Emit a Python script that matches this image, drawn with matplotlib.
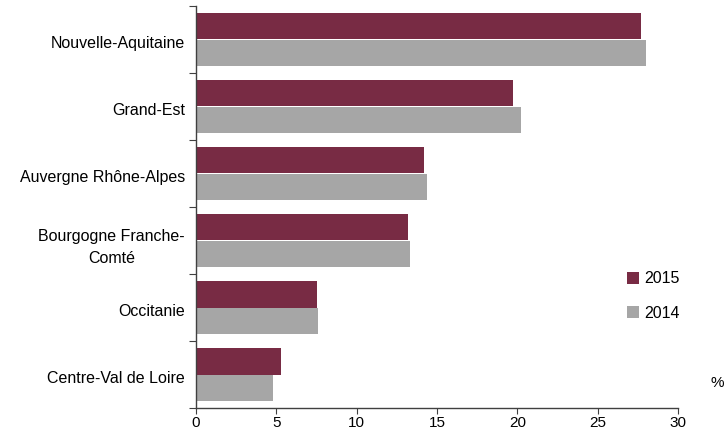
import matplotlib
matplotlib.use("Agg")
import matplotlib.pyplot as plt
import numpy as np

plt.rcParams['font.family'] = ['Liberation Sans', 'DejaVu Sans']

regions = ["Nouvelle-Aquitaine", "Grand-Est", "Auvergne Rhône-Alpes",
           "Bourgogne Franche-\nComté", "Occitanie", "Centre-Val de Loire"]
values_2015 = [27.7, 19.7, 14.2, 13.2, 7.5, 5.3]
values_2014 = [28.0, 20.2, 14.4, 13.3, 7.6, 4.8]
x_ticks = [0, 5, 10, 15, 20, 25, 30]

col_2015 = "#782b44"
col_2014 = "#a6a6a6"
fs = 11.5

fig = plt.figure(figsize=(7.24, 4.33), dpi=100)
ax = fig.add_axes([196 / 724, 1 - 408 / 433, (678 - 196) / 724, (408 - 6) / 433])

y = np.arange(len(regions))
h = 0.4
ax.barh(y - h / 2, values_2015, height=h, color=col_2015, label="2015")
ax.barh(y + h / 2, values_2014, height=h, color=col_2014, label="2014")

ax.set_ylim(len(regions) - 0.5, -0.5)
ax.set_xlim(0, 30)
ax.set_xticks(x_ticks)
ax.set_xticklabels([str(t) for t in x_ticks], fontsize=fs - 0.5)

# category ticks at the boundaries, labels centred
ax.set_yticks(np.arange(-0.5, len(regions), 1))
ax.set_yticklabels([])
ax.set_yticks(y + 0.03, minor=True)
ax.set_yticklabels(regions, minor=True, fontsize=fs, ha="right", multialignment="center",
                   linespacing=1.6)
ax.tick_params(axis="y", which="minor", length=0, pad=8)
ax.tick_params(axis="y", which="major", length=5, color="#404040")
ax.tick_params(axis="x", length=4, color="#404040", pad=2)

for s in ["top", "right"]:
    ax.spines[s].set_visible(False)
for s in ["left", "bottom"]:
    ax.spines[s].set_color("#404040")
    ax.spines[s].set_linewidth(1.0)

ax.legend(loc="upper left", bbox_to_anchor=(613 / 724, 1 - 257 / 433), bbox_transform=fig.transFigure,
          frameon=False, fontsize=fs, handlelength=0.75, handleheight=0.75, labelspacing=1.2,
          handletextpad=0.3)

fig.text(717 / 724, 1 - 383 / 433, "%", fontsize=fs - 0.5, ha="center", va="center")

fig.savefig("out.png", dpi=100)
